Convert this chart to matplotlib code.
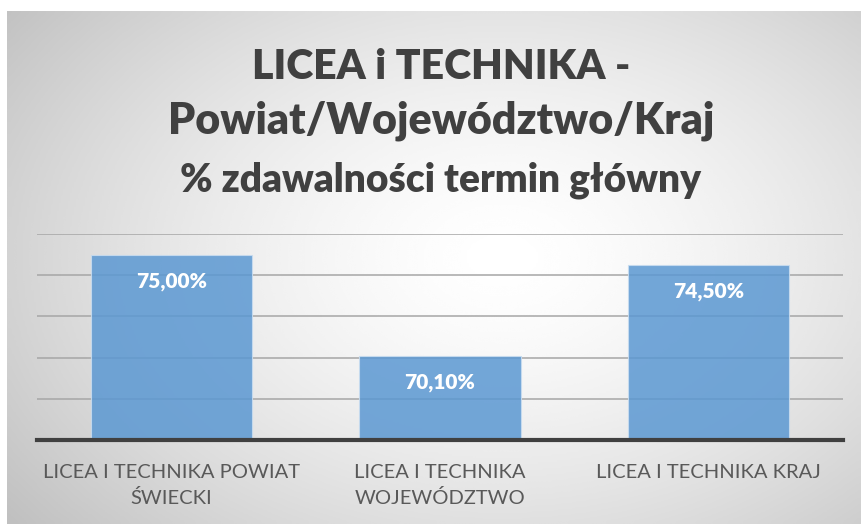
#!/usr/bin/env python3
"""
Licea i technika - % zdawalnosci, powiat / wojewodztwo / kraj.
Bar chart with a radial-gradient background (Excel style).
"""

import numpy as np
import matplotlib
matplotlib.use("Agg")
import matplotlib.pyplot as plt

# ── Data ────────────────────────────────────────────────────────────────────
categories = [
    "LICEA I TECHNIKA POWIAT\nŚWIECKI",
    "LICEA I TECHNIKA\nWOJEWÓDZTWO",
    "LICEA I TECHNIKA KRAJ",
]
values = [75.00, 70.10, 74.50]
value_labels = ["75,00%", "70,10%", "74,50%"]

title_lines = [
    "LICEA i TECHNIKA -",
    "Powiat/Województwo/Kraj",
    "% zdawalności termin główny",
]

# ── Style ───────────────────────────────────────────────────────────────────
plt.rcParams["font.family"] = ["Lato", "DejaVu Sans"]

BAR_COLOR = "#5b98d2"
TEXT_GREY = "#404040"
TICK_GREY = "#595959"
GRID_GREY = "#a6a6a6"

W, H = 861, 524
fig = plt.figure(figsize=(W / 100, H / 100), dpi=100)
fig.patch.set_facecolor("white")

# ── Radial gradient background (chart area starts a few px in) ─────────────
x0, y_top = 7, 11
bg = fig.add_axes([x0 / W, 0, 1 - x0 / W, 1 - y_top / H], zorder=0)
gx, gy = np.meshgrid(np.linspace(0, 1, 400), np.linspace(0, 1, 260))
cx, cy = 0.58, 0.48
r = np.sqrt(((gx - cx) / 0.75) ** 2 + ((gy - cy) / 0.85) ** 2)
r = np.clip(r / r.max(), 0, 1)
shade = 1.0 - 0.25 * r ** 1.5
bg.imshow(shade, cmap="gray", vmin=0, vmax=1, aspect="auto",
          extent=[0, 1, 1, 0], interpolation="bicubic")
bg.set_axis_off()

# ── Main axes ───────────────────────────────────────────────────────────────
ax = fig.add_axes([37 / W, (H - 440) / H, 806 / W, 206 / H], zorder=1)
ax.patch.set_alpha(0)

xpos = np.arange(len(categories))
bars = ax.bar(xpos, values, width=0.6, bottom=0, color=BAR_COLOR, alpha=0.85,
              edgecolor="#c9ddf0", linewidth=0.8, zorder=2)

ax.set_ylim(66, 76)
ax.set_xlim(-0.5, len(categories) - 0.5)
ax.set_yticks([68, 70, 72, 74, 76])
ax.yaxis.grid(True, color=GRID_GREY, lw=1.1, zorder=1)
ax.set_axisbelow(True)
ax.tick_params(axis="y", left=False, labelleft=False)

ax.set_xticks(xpos)
ax.set_xticklabels(categories, fontsize=14.5, color=TICK_GREY, linespacing=1.55)
ax.tick_params(axis="x", length=0, pad=17)

for s in ["top", "right", "left"]:
    ax.spines[s].set_visible(False)
ax.spines["bottom"].set_color("#404040")
ax.spines["bottom"].set_linewidth(3)
ax.spines["bottom"].set_zorder(3)

for b, lab in zip(bars, value_labels):
    ax.annotate(lab, xy=(b.get_x() + b.get_width() / 2, b.get_height()),
                xytext=(0, -27), textcoords="offset pixels",
                ha="center", va="center", fontsize=15, fontweight="heavy",
                color="white", zorder=4)

# ── Title ───────────────────────────────────────────────────────────────────
tx = 441 / W
fig.text(tx, 1 - 67 / H, title_lines[0], ha="center", va="center",
         fontsize=29.5, fontweight="heavy", color=TEXT_GREY)
fig.text(tx, 1 - 121 / H, title_lines[1], ha="center", va="center",
         fontsize=31, fontweight="heavy", color=TEXT_GREY)
fig.text(tx, 1 - 180 / H, title_lines[2], ha="center", va="center",
         fontsize=28, fontweight="heavy", color=TEXT_GREY)

fig.savefig("out.png", dpi=100)
plt.close(fig)
